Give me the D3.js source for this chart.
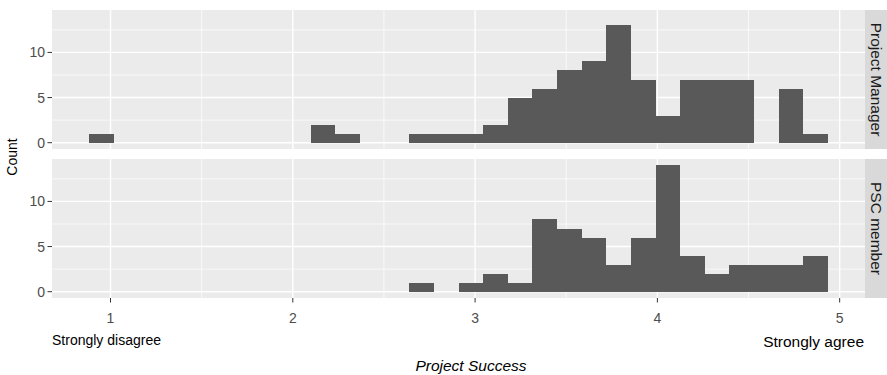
<!DOCTYPE html>
<html>
<head>
<meta charset="utf-8">
<script src="https://cdn.jsdelivr.net/npm/d3@7"></script>
<style>
  body { margin: 0; background: #fff; }
  svg { display: block; font-family: "Liberation Sans", Arial, sans-serif; }
</style>
</head>
<body>
<svg id="chart" width="887" height="375"></svg>
<script>
// ---- data ----
const panels = ["Project Manager", "PSC member"];
const binEdges = [0.882, 1.017, 1.152, 1.287, 1.423, 1.558, 1.693, 1.828, 1.963, 2.098,
  2.233, 2.368, 2.504, 2.639, 2.774, 2.909, 3.044, 3.179, 3.314, 3.449,
  3.585, 3.720, 3.855, 3.990, 4.125, 4.260, 4.395, 4.530, 4.666, 4.801, 4.936];
const countsPM  = [1,0,0,0,0,0,0,0,0,2,1,0,0,1,1,1,2,5,6,8,9,13,7,3,7,7,7,0,6,1];
const countsPSC = [0,0,0,0,0,0,0,0,0,0,0,0,0,1,0,1,2,1,8,7,6,3,6,14,4,2,3,3,3,4];
const xTicks = [1, 2, 3, 4, 5];
const xMinor = [1.5, 2.5, 3.5, 4.5];
const yTicks = [0, 5, 10];
const yMinor = [2.5, 7.5, 12.5];
const xTitle = "Project Success";
const yTitle = "Count";
const leftNote = "Strongly disagree";
const rightNote = "Strongly agree";

const seriesCounts = [countsPM, countsPSC];

// ---- layout ----
const svg = d3.select("#chart");
const panelLeft = 52, panelRight = 865, stripW = 22;
const panelTops = [10, 159], panelH = 139;

const x = d3.scaleLinear().domain([0.679, 5.139]).range([panelLeft, panelRight]);

panels.forEach((name, i) => {
  const top = panelTops[i];
  const y = d3.scaleLinear().domain([-0.7, 14.7]).range([top + panelH, top]);
  const g = svg.append("g");

  g.append("rect").attr("x", panelLeft).attr("y", top)
    .attr("width", panelRight - panelLeft).attr("height", panelH).attr("fill", "#EBEBEB");

  // minor grid
  g.selectAll(".ymin").data(yMinor).join("line")
    .attr("x1", panelLeft).attr("x2", panelRight)
    .attr("y1", d => y(d)).attr("y2", d => y(d))
    .attr("stroke", "#fff").attr("stroke-width", 0.7);
  g.selectAll(".xmin").data(xMinor).join("line")
    .attr("y1", top).attr("y2", top + panelH)
    .attr("x1", d => x(d)).attr("x2", d => x(d))
    .attr("stroke", "#fff").attr("stroke-width", 0.7);
  // major grid
  g.selectAll(".ymaj").data(yTicks).join("line")
    .attr("x1", panelLeft).attr("x2", panelRight)
    .attr("y1", d => y(d)).attr("y2", d => y(d))
    .attr("stroke", "#fff").attr("stroke-width", 1.4);
  g.selectAll(".xmaj").data(xTicks).join("line")
    .attr("y1", top).attr("y2", top + panelH)
    .attr("x1", d => x(d)).attr("x2", d => x(d))
    .attr("stroke", "#fff").attr("stroke-width", 1.4);

  // bars
  const bins = seriesCounts[i].map((c, k) => ({ x0: binEdges[k], x1: binEdges[k + 1], c }))
    .filter(b => b.c > 0);
  g.selectAll(".bar").data(bins).join("rect")
    .attr("x", d => x(d.x0)).attr("width", d => x(d.x1) - x(d.x0))
    .attr("y", d => y(d.c)).attr("height", d => y(0) - y(d.c))
    .attr("fill", "#595959").attr("shape-rendering", "crispEdges");

  // y axis ticks & labels
  g.selectAll(".yt").data(yTicks).join("line")
    .attr("x1", panelLeft - 4.5).attr("x2", panelLeft)
    .attr("y1", d => y(d)).attr("y2", d => y(d))
    .attr("stroke", "#333").attr("stroke-width", 1);
  g.selectAll(".yl").data(yTicks).join("text")
    .attr("x", panelLeft - 7).attr("y", d => y(d)).attr("dy", "0.36em")
    .attr("text-anchor", "end").attr("font-size", 14).attr("fill", "#4D4D4D")
    .text(d => d);

  // strip
  g.append("rect").attr("x", panelRight).attr("y", top)
    .attr("width", stripW).attr("height", panelH).attr("fill", "#D9D9D9");
  g.append("text")
    .attr("transform", `translate(${panelRight + 11},${top + panelH / 2}) rotate(90)`)
    .attr("text-anchor", "middle").attr("dy", "0.35em")
    .attr("font-size", 15.5).attr("fill", "#1A1A1A").text(name);
});

// x axis on bottom panel
const bottom = panelTops[1] + panelH;
svg.selectAll(".xt").data(xTicks).join("line")
  .attr("x1", d => x(d)).attr("x2", d => x(d))
  .attr("y1", bottom).attr("y2", bottom + 4.5)
  .attr("stroke", "#333").attr("stroke-width", 1);
svg.selectAll(".xl").data(xTicks).join("text")
  .attr("x", d => x(d)).attr("y", 323)
  .attr("text-anchor", "middle").attr("font-size", 14).attr("fill", "#4D4D4D")
  .text(d => d);

svg.append("text").attr("x", 52).attr("y", 345)
  .attr("font-size", 14).attr("fill", "#000").text(leftNote);
svg.append("text").attr("x", 864).attr("y", 347)
  .attr("text-anchor", "end").attr("font-size", 15.5).attr("fill", "#000").text(rightNote);

svg.append("text").attr("x", 471).attr("y", 371)
  .attr("text-anchor", "middle").attr("font-size", 15.5).attr("font-style", "italic")
  .attr("fill", "#000").text(xTitle);

svg.append("text")
  .attr("transform", `translate(17,157) rotate(-90)`)
  .attr("text-anchor", "middle").attr("font-size", 14).attr("fill", "#000").text(yTitle);
</script>
</body>
</html>
